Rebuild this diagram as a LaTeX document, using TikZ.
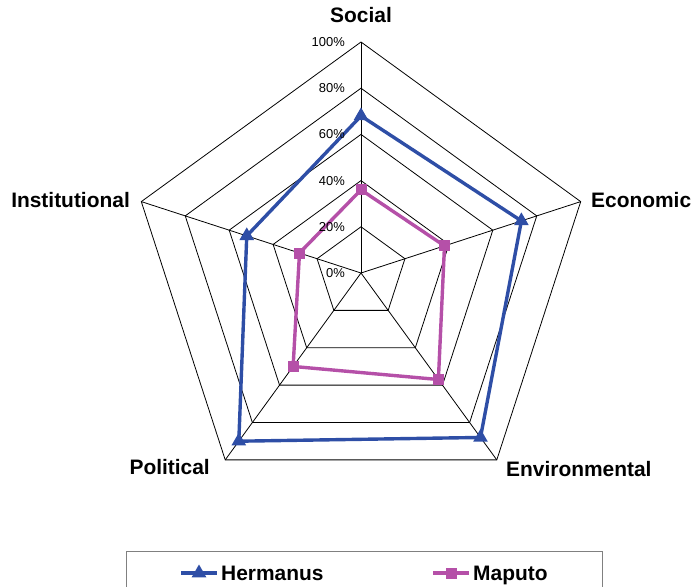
\documentclass[tikz,border=0pt]{standalone}
\usepackage{fontspec}
\setmainfont{Liberation Sans}
\usepackage{tikz}
\usetikzlibrary{calc}
\usetikzlibrary{shapes.geometric}
\definecolor{hermblue}{RGB}{46,78,166}
\definecolor{mapmag}{RGB}{181,80,168}
\tikzset{
 gridline/.style={black, line width=0.8bp},
 series/.style={line width=3.4bp, line join=miter},
 hmark/.style={regular polygon, regular polygon sides=3, minimum size=17bp, inner sep=0, fill=hermblue},
 mmark/.style={rectangle, minimum size=11bp, inner sep=0, fill=mapmag},
 axislabel/.style={font=\fontsize{21}{25}\selectfont\bfseries, inner sep=0},
 pctlabel/.style={font=\fontsize{13}{15}\selectfont, anchor=east, inner sep=0},
 legendbox/.style={draw=gray, line width=1bp}
}

\begin{document}
\begin{tikzpicture}[x=1bp,y=1bp]
\useasboundingbox (0,0) rectangle (696,-587);
\begin{scope}[shift={(361,-273)}]
\coordinate (o) at (0,0);
\foreach \a [count=\i] in {90,18,-54,-126,162} {
 \coordinate (ax\i) at (\a:231);
}
% rings and spokes
\foreach \r in {1,...,5} {
 \draw[gridline] (90:\r*46.2) -- (18:\r*46.2) -- (-54:\r*46.2) -- (-126:\r*46.2) -- (162:\r*46.2) -- cycle;
}
\foreach \i in {1,...,5} {
 \draw[gridline] (o) -- (ax\i);
}
% series
\foreach \a/\v [count=\i] in {90/68,18/73,-54/88,-126/90,162/52} {
 \coordinate (h\i) at (\a:\v*2.31);
}
\foreach \a/\v [count=\i] in {90/36,18/38,-54/57,-126/50,162/28} {
 \coordinate (m\i) at (\a:\v*2.31);
}
\draw[series,hermblue] (h1) -- (h2) -- (h3) -- (h4) -- (h5) -- cycle;
\draw[series,mapmag] (m1) -- (m2) -- (m3) -- (m4) -- (m5) -- cycle;
\foreach \i in {1,...,5} {
 \node[hmark] (hm\i) at (h\i) {};
 \node[mmark] (mm\i) at (m\i) {};
}
\foreach \v [count=\i from 0] in {0,20,40,60,80,100} {
 \node[pctlabel] (pct\i) at (-16,\i*46.2) {\v\%};
}
\end{scope}
% axis names
\node[axislabel] (social) at (361,-15) {Social};
\node[axislabel, anchor=west] (economic) at (591,-200.5) {Economic};
\node[axislabel, anchor=west] (environmental) at (506,-469) {Environmental};
\node[axislabel, anchor=east] (political) at (210,-467) {Political};
\node[axislabel, anchor=east] (institutional) at (130,-200) {Institutional};
% legend
\draw[legendbox] (126.7,-600) |- (602.7,-551.7) -- (602.7,-600);
\coordinate (lh1) at (181,-573);
\coordinate (lh2) at (217,-573);
\coordinate (lm1) at (433,-573);
\coordinate (lm2) at (469,-573);
\draw[series,hermblue] (lh1) -- (lh2);
\draw[series,mapmag] (lm1) -- (lm2);
\node[hmark] (lhm) at ($(lh1)!0.5!(lh2)$) {};
\node[mmark] (lmm) at ($(lm1)!0.5!(lm2)$) {};
\node[axislabel, anchor=base west] (lht) at (221,-580.5) {Hermanus};
\node[axislabel, anchor=base west] (lmt) at (473,-580.5) {Maputo};
\end{tikzpicture}
\end{document}
